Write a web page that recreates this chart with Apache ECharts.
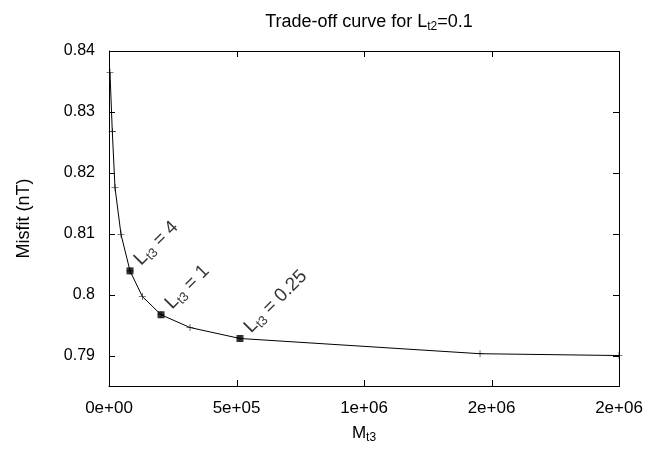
<!DOCTYPE html>
<html>
<head>
<meta charset="utf-8">
<script src="https://cdn.jsdelivr.net/npm/echarts@6/dist/echarts.min.js"></script>
<style>
  html, body { margin: 0; padding: 0; background: #fff; }
  #chart { width: 650px; height: 449px; }
</style>
</head>
<body>
<div id="chart"></div>
<script>
// data
const mt3 = [3900, 12900, 23500, 47000, 82400, 130600, 204000, 317600, 513700, 1455000, 2000000]
const misfit = [0.8365, 0.8268, 0.8176, 0.8099, 0.8039, 0.7997, 0.7967, 0.7946, 0.7928, 0.7903, 0.7900]
// points marked with a square and their L_t3 label
const keyIdx = [4, 6, 8]
const keyLt3 = ['4', '1', '0.25']
const xTicks = [0, 500000, 1000000, 1500000, 2000000]
const yTicks = [0.79, 0.8, 0.81, 0.82, 0.83, 0.84]
const yMin = 0.785
const yMax = 0.84

const font = 'Liberation Sans'
const plusPath = 'path://M0,4.6H10V5.4H0ZM4.6,0H5.4V10H4.6Z'
const tickLen = 6

// gnuplot style "%.0e" labels
function sci(v) {
  const s = v.toExponential(0)
  const [m, e] = s.split('e')
  const sign = e[0]
  let d = e.slice(1)
  if (d.length < 2) d = '0' + d
  return m + 'e' + sign + d
}

const lineData = mt3.map((x, i) => [x, misfit[i]])
const keyData = keyIdx.map((k, j) => ({
  value: [mt3[k], misfit[k]],
  label: { formatter: '{l|L}{s|t3}{l| = ' + keyLt3[j] + '}' }
}))

const stroke = { stroke: '#000', lineWidth: 1 }

// inward ticks on both bottom and top borders
function xTickItem(params, api) {
  const cs = params.coordSys
  const x = Math.round(api.coord([api.value(0), yMin])[0]) + 0.5
  const b = cs.y + cs.height
  return {
    type: 'group',
    children: [
      { type: 'line', shape: { x1: x, y1: b, x2: x, y2: b - tickLen }, style: stroke },
      { type: 'line', shape: { x1: x, y1: cs.y, x2: x, y2: cs.y + tickLen }, style: stroke }
    ]
  }
}

// inward ticks on both left and right borders
function yTickItem(params, api) {
  const cs = params.coordSys
  const y = Math.round(api.coord([0, api.value(1)])[1]) + 0.5
  const r = cs.x + cs.width
  return {
    type: 'group',
    children: [
      { type: 'line', shape: { x1: cs.x, y1: y, x2: cs.x + tickLen, y2: y }, style: stroke },
      { type: 'line', shape: { x1: r, y1: y, x2: r - tickLen, y2: y }, style: stroke }
    ]
  }
}

// the box around the plot
function frameItem(params) {
  const cs = params.coordSys
  return {
    type: 'rect',
    shape: { x: Math.round(cs.x) + 0.5, y: Math.round(cs.y) + 0.5, width: Math.round(cs.width), height: Math.round(cs.height) },
    style: { fill: 'none', stroke: '#000', lineWidth: 1 }
  }
}

const chart = echarts.init(document.getElementById('chart'))
chart.setOption({
  animation: false,
  title: {
    text: '{a|Trade-off curve for L}{s|t2}{a|=0.1}',
    left: 364,
    top: 6,
    textAlign: 'center',
    textStyle: {
      fontWeight: 'normal',
      rich: {
        a: { fontFamily: font, fontSize: 18, fontWeight: 'normal', color: '#000' },
        s: { fontFamily: font, fontSize: 12, fontWeight: 'normal', color: '#000', padding: [10, 0, 0, 0] }
      }
    }
  },
  grid: { left: 109, right: 31, top: 51, bottom: 63 },
  xAxis: {
    type: 'value', min: 0, max: 2000000, interval: 500000,
    axisLine: { show: true, onZero: false, lineStyle: { color: '#000', width: 1 } },
    axisTick: { show: false },
    splitLine: { show: false },
    axisLabel: { fontFamily: font, fontSize: 17, color: '#000', margin: 14, formatter: sci },
    name: '{l|M}{s|t3}',
    nameLocation: 'middle',
    nameGap: 37,
    nameTextStyle: {
      rich: {
        l: { fontFamily: font, fontSize: 17, color: '#000' },
        s: { fontFamily: font, fontSize: 12, color: '#000', padding: [9, 0, 0, 0] }
      }
    }
  },
  yAxis: {
    type: 'value', min: yMin, max: yMax,
    axisLine: { show: true, onZero: false, lineStyle: { color: '#000', width: 1 } },
    axisTick: { show: false },
    splitLine: { show: false },
    axisLabel: {
      fontFamily: font, fontSize: 16, color: '#000', margin: 14,
      customValues: yTicks,
      formatter: v => String(+v.toFixed(2))
    },
    name: 'Misfit (nT)',
    nameLocation: 'middle',
    nameRotate: 90,
    nameGap: 76,
    nameTextStyle: { fontFamily: font, fontSize: 18, color: '#000' }
  },
  series: [
    {
      type: 'custom',
      silent: true,
      clip: false,
      data: [[0, yMin]],
      renderItem: frameItem,
      z: 5
    },
    {
      type: 'custom',
      silent: true,
      clip: false,
      data: xTicks.map(v => [v, yMin]),
      renderItem: xTickItem,
      z: 5
    },
    {
      type: 'custom',
      silent: true,
      clip: false,
      data: yTicks.map(v => [0, v]),
      renderItem: yTickItem,
      z: 5
    },
    {
      type: 'line',
      data: lineData,
      symbol: plusPath,
      symbolSize: 7,
      lineStyle: { color: '#000', width: 1 },
      itemStyle: { color: '#000', borderWidth: 0 }
    },
    {
      type: 'scatter',
      data: keyData,
      symbol: 'rect',
      symbolSize: 7,
      itemStyle: { color: '#000' },
      label: {
        show: true,
        position: [19, 3],
        rotate: 45,
        align: 'left',
        verticalAlign: 'bottom',
        rich: {
          l: { fontFamily: font, fontSize: 19, color: '#000' },
          s: { fontFamily: font, fontSize: 13, color: '#000', padding: [10, 0, 0, 0] }
        }
      }
    }
  ]
})
</script>
</body>
</html>
